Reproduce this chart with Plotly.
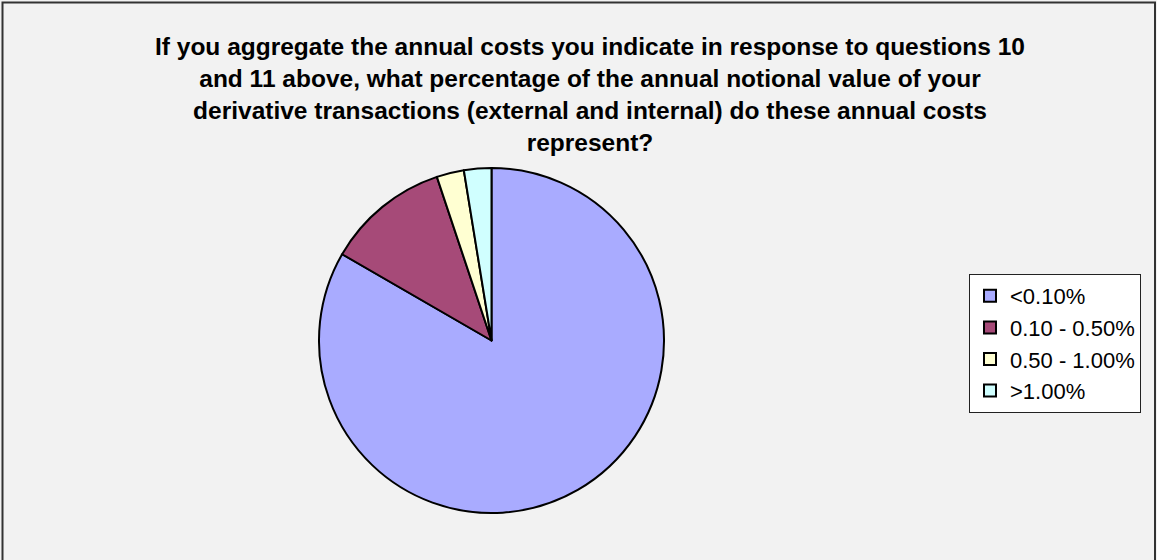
import plotly.graph_objects as go

categories = ["<0.10%", "0.10 - 0.50%", "0.50 - 1.00%", ">1.00%"]
values = [65, 9, 2, 2]
colors = ["#A9ABFF", "#A64A78", "#FFFFD2", "#D0FFFF"]
title_text = ("<b>If you aggregate the annual costs you indicate in response to questions 10<br>"
              "and 11 above, what percentage of the annual notional value of your<br>"
              "derivative transactions (external and internal) do these annual costs<br>"
              "represent?</b>")

W, H = 1157, 560
cx, cy, r = 491.5, 340.5, 172.5

fig = go.Figure(go.Pie(
    labels=categories,
    values=values,
    sort=False,
    direction="clockwise",
    rotation=0,
    textinfo="none",
    hoverinfo="label+value+percent",
    marker=dict(colors=colors, line=dict(color="black", width=2)),
    domain=dict(x=[(cx - r) / W, (cx + r) / W], y=[1 - (cy + r) / H, 1 - (cy - r) / H]),
))

fig.update_layout(
    width=W, height=H,
    margin=dict(l=0, r=0, t=0, b=0),
    paper_bgcolor="#F2F2F2",
    plot_bgcolor="#F2F2F2",
    font=dict(family="Liberation Sans, Arial, sans-serif", color="black"),
    showlegend=True,
    legend=dict(
        x=1141 / W, y=1 - 343.5 / H, xanchor="right", yanchor="middle",
        bgcolor="white", bordercolor="#222222", borderwidth=1,
        font=dict(size=22, family="Liberation Sans, Arial, sans-serif", color="black"),
        itemwidth=30,
    ),
    annotations=[dict(
        text=title_text, x=590 / W, y=1 - 31 / H, xref="paper", yref="paper",
        xanchor="center", yanchor="top", showarrow=False, align="center",
        font=dict(size=24.5, family="Liberation Sans, Arial, sans-serif", color="black"),
    )],
    shapes=[dict(
        type="rect", xref="paper", yref="paper",
        x0=2.5 / W, x1=1155 / W, y0=-0.02, y1=1 - 2.5 / H,
        line=dict(color="#333333", width=2), fillcolor="rgba(0,0,0,0)",
    )],
)

fig.write_html("out.html")
